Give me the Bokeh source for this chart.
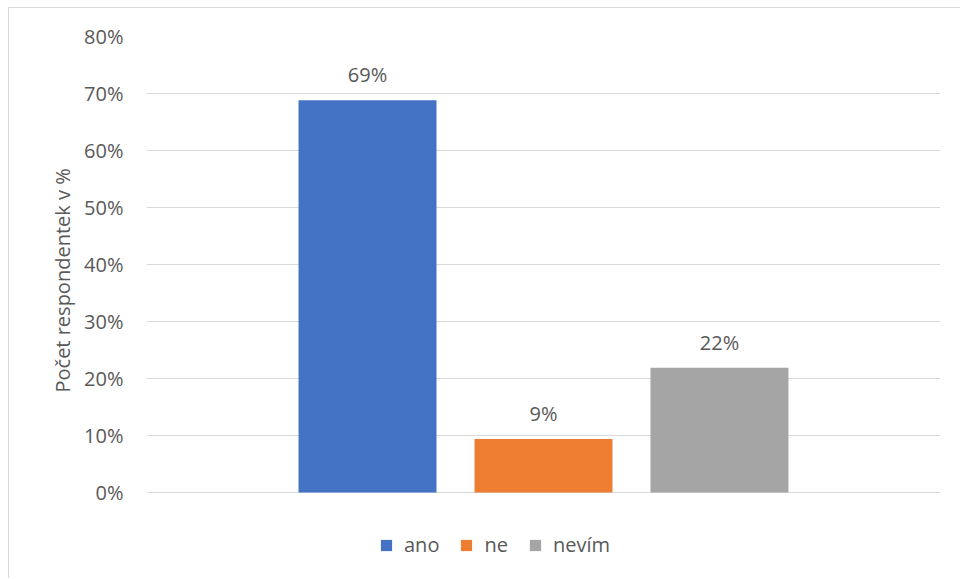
from bokeh.plotting import figure
from bokeh.models import (ColumnDataSource, FactorRange, Range1d, FixedTicker,
                          NumeralTickFormatter, LabelSet, Legend, LegendItem, Title)
from bokeh.core.properties import value
from bokeh.embed import file_html
from bokeh.resources import INLINE

categories = ["ano", "ne", "nevím"]
values = [0.688, 0.094, 0.219]
value_labels = ["69%", "9%", "22%"]
colors = ["#4472C4", "#ED7D31", "#A5A5A5"]
y_ticks = [0.0, 0.1, 0.2, 0.3, 0.4, 0.5, 0.6, 0.7, 0.8]
y_label = "Počet respondentek v %"

FONT = "Open Sans"
TXT = "#595959"

source = ColumnDataSource(dict(cat=categories, val=values, lab=value_labels, col=colors))

# canvas is shifted by the chart-area border (8 px left, 7 px top + 1 px line)
p = figure(width=952, height=571, output_backend="svg", toolbar_location=None,
           x_range=FactorRange(*categories, range_padding=0.504),
           y_range=Range1d(-0.1526, 0.8),
           min_border_left=137, min_border_right=21, min_border_top=28, min_border_bottom=0)
p.outline_line_color = None
p.styles = {"border-left": "1px solid #D9D9D9", "border-top": "1px solid #D9D9D9",
            "margin-left": "8px", "margin-top": "7px"}

r = p.vbar(x="cat", top="val", bottom=0, width=0.784, fill_color="col", line_color=None,
           source=source)

p.xaxis.visible = False
p.xgrid.grid_line_color = None
p.ygrid.grid_line_color = "#D9D9D9"
p.ygrid.ticker = FixedTicker(ticks=y_ticks)

ax = p.yaxis[0]
ax.ticker = FixedTicker(ticks=y_ticks)
ax.formatter = NumeralTickFormatter(format="0%")
ax.axis_line_color = None
ax.major_tick_line_color = None
ax.minor_tick_line_color = None
ax.major_tick_out = 0
ax.major_label_standoff = 23
ax.major_label_text_font = FONT
ax.major_label_text_font_size = "20px"
ax.major_label_text_color = TXT

ytitle = Title(text=y_label, align="left", offset=187, standoff=11,
               text_font=FONT, text_font_size="20px", text_font_style="normal",
               text_color=TXT)
p.add_layout(ytitle, "left")

labels = LabelSet(x="cat", y="val", text="lab", source=source, y_offset=18,
                  text_align="center", text_baseline="alphabetic",
                  text_font=value(FONT), text_font_size=value("20px"), text_color=TXT)
p.add_layout(labels)

items = [LegendItem(label=c, renderers=[r], index=i) for i, c in enumerate(categories)]
legend = Legend(items=items, orientation="horizontal", location=(233, 21),
                glyph_width=14, glyph_height=14, label_standoff=11, spacing=20,
                label_text_font=FONT, label_text_font_size="20px", label_text_color=TXT,
                border_line_color=None, background_fill_alpha=0, margin=0, padding=5)
p.add_layout(legend)

open("out.html", "w").write(file_html(p, INLINE))
